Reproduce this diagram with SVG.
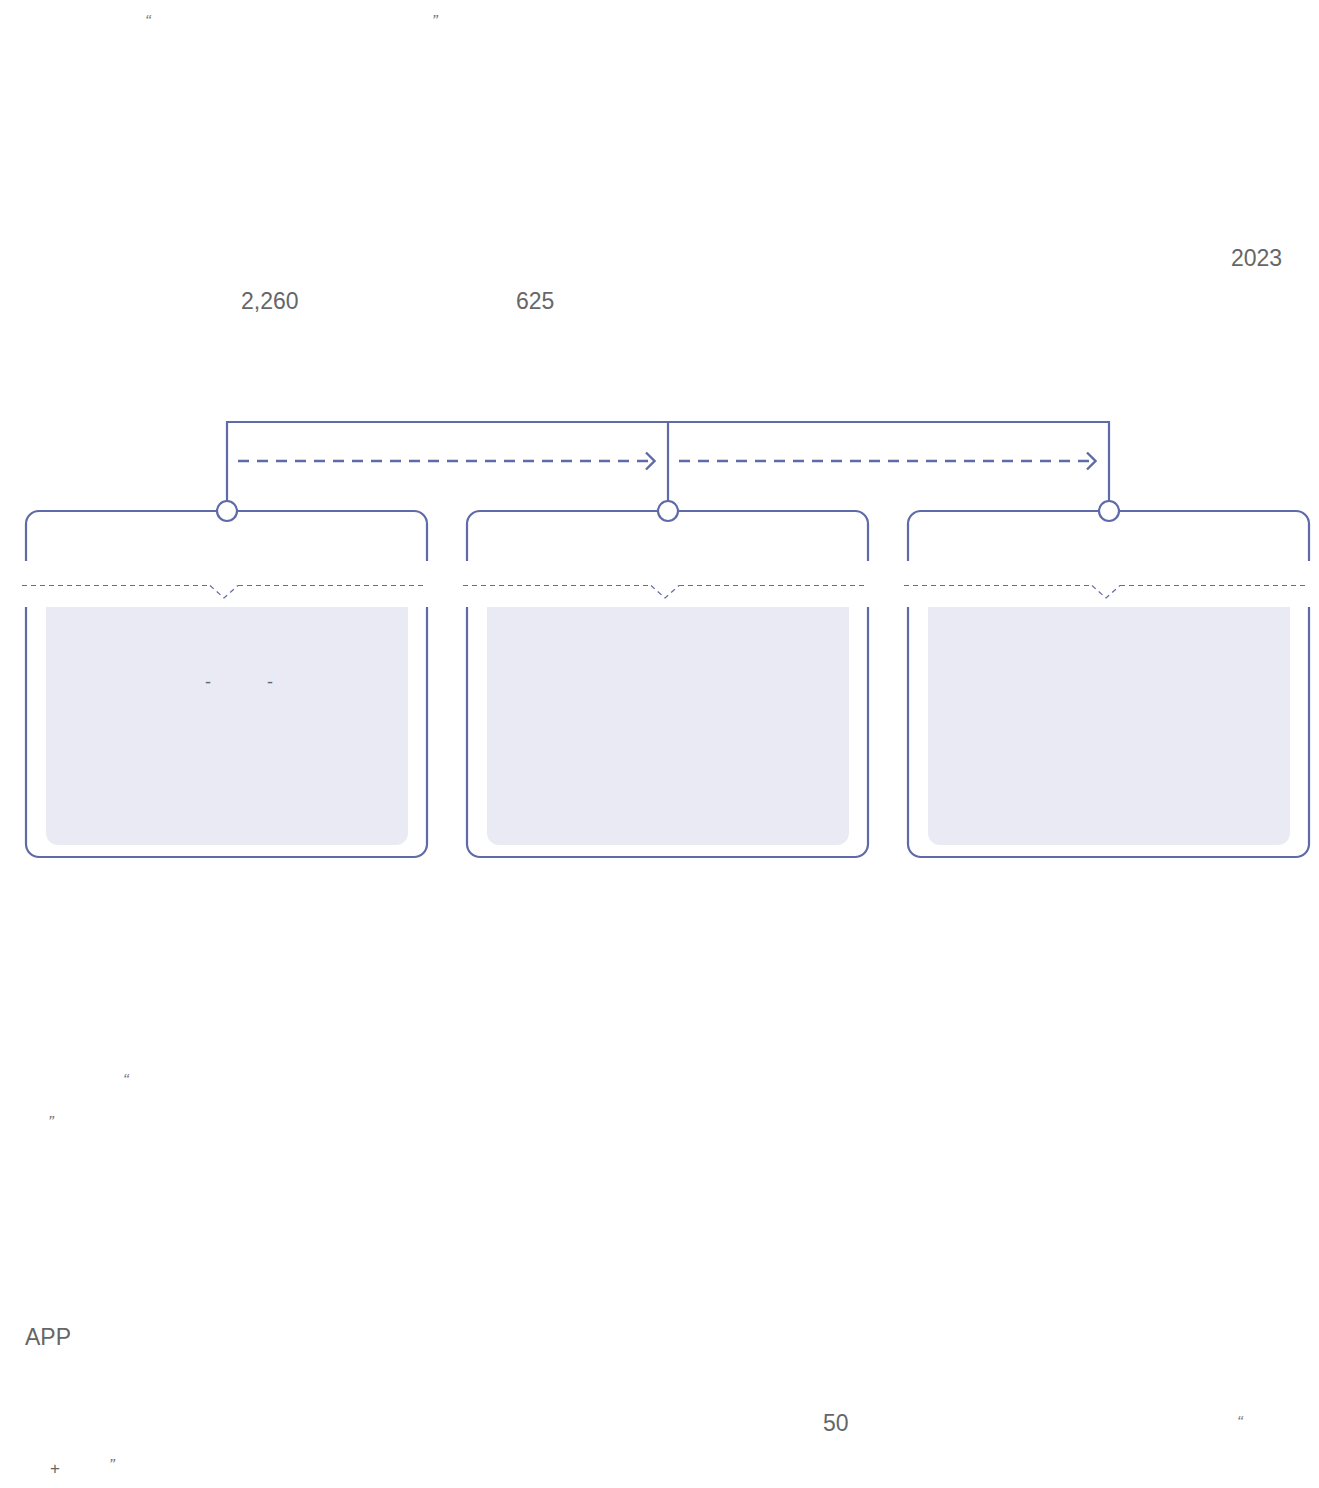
<svg xmlns="http://www.w3.org/2000/svg" width="1319" height="1488" viewBox="0 0 1319 1488">
<defs>
<style>
.t{font-family:"Liberation Sans",Arial,sans-serif;fill:#666;font-size:23px}
.q{font-family:"Liberation Sans",Arial,sans-serif;fill:#777;font-size:17px;font-style:italic}
.box{fill:#fff;stroke:#5f6aa8;stroke-width:2.2}
.inner{fill:#eaeaf4}
.band{fill:#fff}
.dl{stroke:#5f6aa8;stroke-width:1.2;stroke-dasharray:5 4;fill:none}
.con{stroke:#5f6aa8;stroke-width:2.2;fill:none}
.arr{stroke:#5f6aa8;stroke-width:2.4;fill:none;stroke-dasharray:11 8}
.dot{fill:#fff;stroke:#5f6aa8;stroke-width:2.2}
</style>
<marker id="chev" viewBox="0 0 12 20" refX="11" refY="10" markerWidth="12" markerHeight="20" markerUnits="userSpaceOnUse" orient="auto">
<path d="M2 1.5 L10.5 10 L2 18.5" fill="none" stroke="#5f6aa8" stroke-width="2.4"/>
</marker>
</defs>
<rect width="1319" height="1488" fill="#fff"/>
<g id="texts">
<text class="q" x="145" y="27">“</text>
<text class="q" x="432" y="27">”</text>
<text class="t" x="1231" y="266">2023</text>
<text class="t" x="241" y="309">2,260</text>
<text class="t" x="516" y="309">625</text>
<text class="q" x="123" y="1086">“</text>
<text class="q" x="48" y="1128">”</text>
<text class="t" x="25" y="1345">APP</text>
<text class="t" x="823" y="1431">50</text>
<text class="q" x="1237" y="1428">“</text>
<text class="t" x="50" y="1474" style="font-size:17px">+</text>
<text class="q" x="109" y="1471">”</text>
</g>
<g id="node1">
<rect class="box" x="26" y="511" width="401" height="346" rx="13"/>
<rect class="band" x="20" y="561" width="413" height="46"/>
<path class="inner" d="M46 607 H408 V833 a12 12 0 0 1 -12 12 H58 a12 12 0 0 1 -12 -12 Z"/>
<path class="dl" d="M22 585.5 H210 M238 585.5 H427 M210 585.5 L224 598 L238 585.5"/>
<text class="t" x="205" y="688" style="font-size:18px">-</text>
<text class="t" x="267" y="688" style="font-size:18px">-</text>
</g>
<g id="node2">
<rect class="box" x="467" y="511" width="401" height="346" rx="13"/>
<rect class="band" x="461" y="561" width="413" height="46"/>
<path class="inner" d="M487 607 H849 V833 a12 12 0 0 1 -12 12 H499 a12 12 0 0 1 -12 -12 Z"/>
<path class="dl" d="M463 585.5 H651 M679 585.5 H868 M651 585.5 L665 598 L679 585.5"/>
</g>
<g id="node3">
<rect class="box" x="908" y="511" width="401" height="346" rx="13"/>
<rect class="band" x="902" y="561" width="413" height="46"/>
<path class="inner" d="M928 607 H1290 V833 a12 12 0 0 1 -12 12 H940 a12 12 0 0 1 -12 -12 Z"/>
<path class="dl" d="M904 585.5 H1092 M1120 585.5 H1309 M1092 585.5 L1106 598 L1120 585.5"/>
</g>
<g id="connectors">
<path class="con" d="M227 501 V422 H1109 V501 M668 422 V501"/>
<path class="arr" d="M238 461 H655" marker-end="url(#chev)"/>
<path class="arr" d="M679 461 H1096" marker-end="url(#chev)"/>
<circle class="dot" cx="227" cy="511" r="10"/>
<circle class="dot" cx="668" cy="511" r="10"/>
<circle class="dot" cx="1109" cy="511" r="10"/>
</g>
</svg>
